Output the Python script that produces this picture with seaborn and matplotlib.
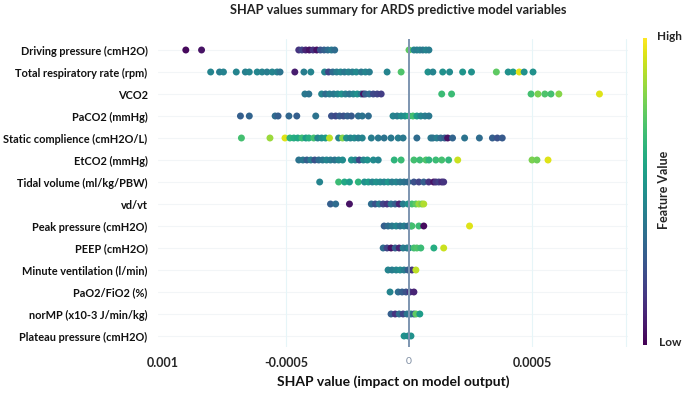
import numpy as np
import pandas as pd
import seaborn as sns
import matplotlib.pyplot as plt
from matplotlib.cm import ScalarMappable
from matplotlib.colors import Normalize

features = ["Driving pressure (cmH2O)", "Total respiratory rate (rpm)", "VCO2",
            "PaCO2 (mmHg)", "Static complience (cmH2O/L)", "EtCO2 (mmHg)",
            "Tidal volume (ml/kg/PBW)", "vd/vt", "Peak pressure (cmH2O)",
            "PEEP (cmH2O)", "Minute ventilation (l/min)", "PaO2/FiO2 (%)",
            "norMP (x10-3 J/min/kg)", "Plateau pressure (cmH2O)"]

# shap values in units of 1e-4, feature values scaled 0 (low) .. 1 (high)
driving_shap = [-9.07, -8.43, -4.48, -4.35, -4.20, -4.05, -3.90, -3.75, -3.60, -3.45, -3.30, -3.15, -3.02,
                0.0, 0.20, 0.32, 0.44, 0.56, 0.69, 0.81]
driving_val = [0.02, 0.05, 0.15, 0.2, 0.1, 0.05, 0.15, 0.05, 0.25, 0.3, 0.35, 0.4, 0.35,
               0.75, 0.45, 0.42, 0.45, 0.4, 0.45, 0.42]

resp_shap = [-8.06, -7.70, -7.54, -7.02, -6.65, -6.49, -6.17, -5.97, -5.77, -5.56, -5.36, -5.24,
             -4.64, -4.27, -3.99, -3.43, -3.27, -3.10, -2.94, -2.78, -2.62, -2.46, -2.30, -2.14,
             -1.94, -1.77, -1.61, -0.89, -0.32, 0.77, 0.97, 1.37, 1.65, 2.18, 2.54, 3.55,
             4.03, 4.23, 4.48, 4.68, 5.04]
resp_val = [0.45, 0.42, 0.44, 0.45, 0.43, 0.45, 0.46, 0.44, 0.42, 0.45, 0.43, 0.38,
            0.08, 0.42, 0.45, 0.45, 0.2, 0.35, 0.42, 0.45, 0.4, 0.44, 0.42, 0.47,
            0.4, 0.45, 0.42, 0.45, 0.72, 0.5, 0.45, 0.5, 0.48, 0.52, 0.5, 0.75,
            0.5, 0.55, 0.95, 0.5, 0.5]

vco2_shap = [-4.23, -4.07, -3.55, -3.39, -3.23, -3.06, -2.90, -2.74, -2.58, -2.42, -2.26, -2.10,
             -1.94, -1.85, -1.77, -1.61, -1.45, -1.29, -1.13, 1.33, 1.73, 4.96, 5.24, 5.52,
             5.77, 6.09, 7.74]
vco2_val = [0.4, 0.38, 0.45, 0.35, 0.42, 0.4, 0.45, 0.5, 0.42, 0.38, 0.45, 0.5,
            0.4, 0.05, 0.3, 0.35, 0.22, 0.2, 0.18, 0.68, 0.68, 0.7, 0.8, 0.72,
            0.7, 0.82, 0.95]

paco2_shap = [-6.85, -6.49, -5.44, -5.32, -4.88, -4.56, -3.79, -3.15, -2.98, -2.82, -2.66, -2.50,
              -2.34, -2.06, -1.90, -1.65, -0.65, -0.48, -0.32, -0.16, 0.0, 0.16, 0.32, 0.48,
              0.65, 0.81]
paco2_val = [0.3, 0.32, 0.35, 0.3, 0.33, 0.3, 0.38, 0.25, 0.22, 0.28, 0.25, 0.3,
             0.28, 0.35, 0.38, 0.35, 0.45, 0.42, 0.48, 0.5, 0.6, 0.7, 0.55, 0.45,
             0.42, 0.4]

static_shap = [-6.81, -5.65, -5.04, -4.84, -4.68, -4.52, -4.35, -4.19, -4.07, -3.87, -3.71, -3.55,
               -3.39, -3.23, -2.86, -2.70, -2.54, -2.38, -2.22, -2.06, -1.90, -1.53, -1.25, -1.01,
               -0.73, -0.44, -0.24, 0.32, 0.89, 0.97, 1.13, 1.29, 1.45, 1.57, 1.77, 2.26,
               2.86, 3.39, 3.59, 3.79]
static_val = [0.7, 0.85, 0.95, 0.65, 0.62, 0.6, 0.68, 0.55, 0.62, 0.7, 0.45, 0.5,
              0.55, 0.9, 0.45, 0.82, 0.5, 0.45, 0.48, 0.42, 0.45, 0.42, 0.4, 0.38,
              0.4, 0.42, 0.4, 0.35, 0.4, 0.38, 0.42, 0.35, 0.3, 0.05, 0.32, 0.38,
              0.35, 0.3, 0.25, 0.28]

etco2_shap = [-4.48, -4.31, -4.15, -3.99, -3.83, -3.67, -3.51, -3.35, -3.19, -3.02, -2.86, -2.70,
              -2.34, -2.18, -2.02, -1.85, -1.69, -1.45, -1.25, -0.60, -0.32, 0.20, 0.44, 0.69,
              0.81, 1.09, 1.33, 1.61, 1.98, 5.00, 5.20, 5.65]
etco2_val = [0.38, 0.4, 0.3, 0.42, 0.25, 0.35, 0.4, 0.45, 0.42, 0.38, 0.45, 0.48,
             0.5, 0.45, 0.2, 0.45, 0.5, 0.48, 0.45, 0.65, 0.68, 0.7, 0.68, 0.72,
             0.65, 0.68, 0.7, 0.66, 0.92, 0.8, 0.78, 0.95]

tidal_shap = [-3.63, -2.86, -2.62, -2.42, -2.06, -1.81, -1.65, -1.49, -1.33, -1.17, -1.01, -0.85,
              -0.69, -0.52, -0.36, -0.20, -0.04, 0.20, 0.40, 0.60, 0.80, 1.00, 1.09, 1.21,
              1.33, 1.41]
tidal_val = [0.45, 0.68, 0.6, 0.55, 0.65, 0.5, 0.55, 0.45, 0.5, 0.48, 0.45, 0.52,
             0.42, 0.45, 0.4, 0.38, 0.35, 0.25, 0.2, 0.3, 0.15, 0.05, 0.15, 0.18,
             0.12, 0.15]

vdvt_shap = [-3.19, -2.98, -2.42, -1.53, -1.37, -1.21, -1.05, -0.89, -0.73, -0.56, -0.40, -0.24,
             -0.04, 0.12, 0.28, 0.40, 0.52, 0.60]
vdvt_val = [0.3, 0.35, 0.05, 0.35, 0.25, 0.4, 0.2, 0.15, 0.38, 0.3, 0.1, 0.42,
            0.5, 0.7, 0.75, 0.85, 0.8, 0.88]

peak_shap = [-1.01, -0.85, -0.69, -0.52, -0.36, -0.20, -0.04, 0.08, 0.12, 0.40, 0.60, 2.46]
peak_val = [0.3, 0.35, 0.4, 0.45, 0.38, 0.42, 0.35, 0.45, 0.7, 0.68, 0.03, 0.95]

peep_shap = [-1.05, -0.89, -0.73, -0.56, -0.40, -0.24, -0.08, 0.00, 0.20, 0.32, 0.48, 1.01, 1.41]
peep_val = [0.35, 0.2, 0.05, 0.3, 0.1, 0.42, 0.38, 0.45, 0.7, 0.72, 0.68, 0.62, 0.92]

minute_shap = [-0.85, -0.69, -0.52, -0.36, -0.20, -0.04, 0.12, 0.28]
minute_val = [0.45, 0.42, 0.45, 0.48, 0.42, 0.3, 0.15, 0.9]

pao2_shap = [-0.77, -0.44, -0.28, -0.12, 0.04, 0.20]
pao2_val = [0.45, 0.35, 0.3, 0.25, 0.15, 0.1]

normp_shap = [-0.73, -0.56, -0.40, -0.24, -0.08, 0.08, 0.20, 0.28, 0.44]
normp_val = [0.3, 0.15, 0.35, 0.2, 0.38, 0.45, 0.3, 0.75, 0.55]

plateau_shap = [-0.20, -0.04, 0.08]
plateau_val = [0.5, 0.48, 0.5]

tick_pos = [-0.001, -0.0005, 0, 0.0005]
tick_labels = ["0.001", "-0.0005", "0", "0.0005"]


def main():
    shaps = [driving_shap, resp_shap, vco2_shap, paco2_shap, static_shap, etco2_shap, tidal_shap,
             vdvt_shap, peak_shap, peep_shap, minute_shap, pao2_shap, normp_shap, plateau_shap]
    vals = [driving_val, resp_val, vco2_val, paco2_val, static_val, etco2_val, tidal_val,
            vdvt_val, peak_val, peep_val, minute_val, pao2_val, normp_val, plateau_val]

    rows = []
    for name, s, v in zip(features, shaps, vals):
        assert len(s) == len(v), name
        for a, b in zip(s, v):
            rows.append({"feature": name, "shap": a * 1e-4, "value": b})
    df = pd.DataFrame(rows)

    sns.set_style("white")
    plt.rcParams["font.family"] = ["Lato", "DejaVu Sans"]

    fig = plt.figure(figsize=(6.85, 3.93), dpi=100)
    ax = fig.add_axes([158 / 685, 1 - 347 / 393, 470 / 685, 308 / 393])

    # faint grid
    for i in range(len(features)):
        ax.axhline(i, color="#f2f5f7", lw=0.8, zorder=0)
    for xv in [-0.0005, 0.0005, 0.00088]:
        ax.axvline(xv, color="#e6f5f8", lw=0.8, zorder=0)

    sns.stripplot(data=df, x="shap", y="feature", hue="value", palette="viridis",
                  hue_norm=(0, 1), order=features, jitter=False, size=5,
                  linewidth=0, legend=False, ax=ax, zorder=2)

    ax.axvline(0, color="#7d95b0", lw=1.4, zorder=3)

    ax.set_xlim(-0.00102, 0.00089)
    ax.set_ylim(len(features) - 0.5, -0.5)
    ax.set_xticks(tick_pos)
    ax.set_xticklabels(tick_labels)
    for lab in ax.get_xticklabels():
        if lab.get_text() == "0":
            lab.set_color("#7f8ea3")
            lab.set_fontsize(7.5)
        else:
            lab.set_fontweight("bold")
            lab.set_fontsize(9)
    ax.tick_params(axis="x", length=0, pad=7)
    ax.tick_params(axis="y", length=0, pad=7.5)
    for lab in ax.get_yticklabels():
        lab.set_fontweight("bold")
        lab.set_fontsize(7.9)
        lab.set_color("#111111")
    ax.set_ylabel("")
    ax.set_xlabel("SHAP value (impact on model output)", fontsize=10, fontweight="bold",
                  labelpad=5, color="#111111")
    sns.despine(ax=ax, left=True, bottom=True)

    fig.text(0.582, 0.974, "SHAP values summary for ARDS predictive model variables",
             ha="center", va="center", fontsize=9.2, fontweight="bold", color="#222222")

    # colorbar
    cax = fig.add_axes([643 / 685, 1 - 345 / 393, 4 / 685, 307 / 393])
    cb = fig.colorbar(ScalarMappable(norm=Normalize(0, 1), cmap="viridis"), cax=cax)
    cb.set_ticks([])
    cb.outline.set_visible(False)
    fig.text(657 / 685, 1 - 36 / 393, "High", ha="left", va="center", fontsize=8.5, fontweight="bold")
    fig.text(659 / 685, 1 - 343 / 393, "Low", ha="left", va="center", fontsize=8.5, fontweight="bold")
    fig.text(664 / 685, 1 - 190 / 393, "Feature Value", ha="center", va="center",
             rotation=90, fontsize=9, fontweight="bold")

    fig.savefig("out.png", dpi=100)


if __name__ == "__main__":
    main()
